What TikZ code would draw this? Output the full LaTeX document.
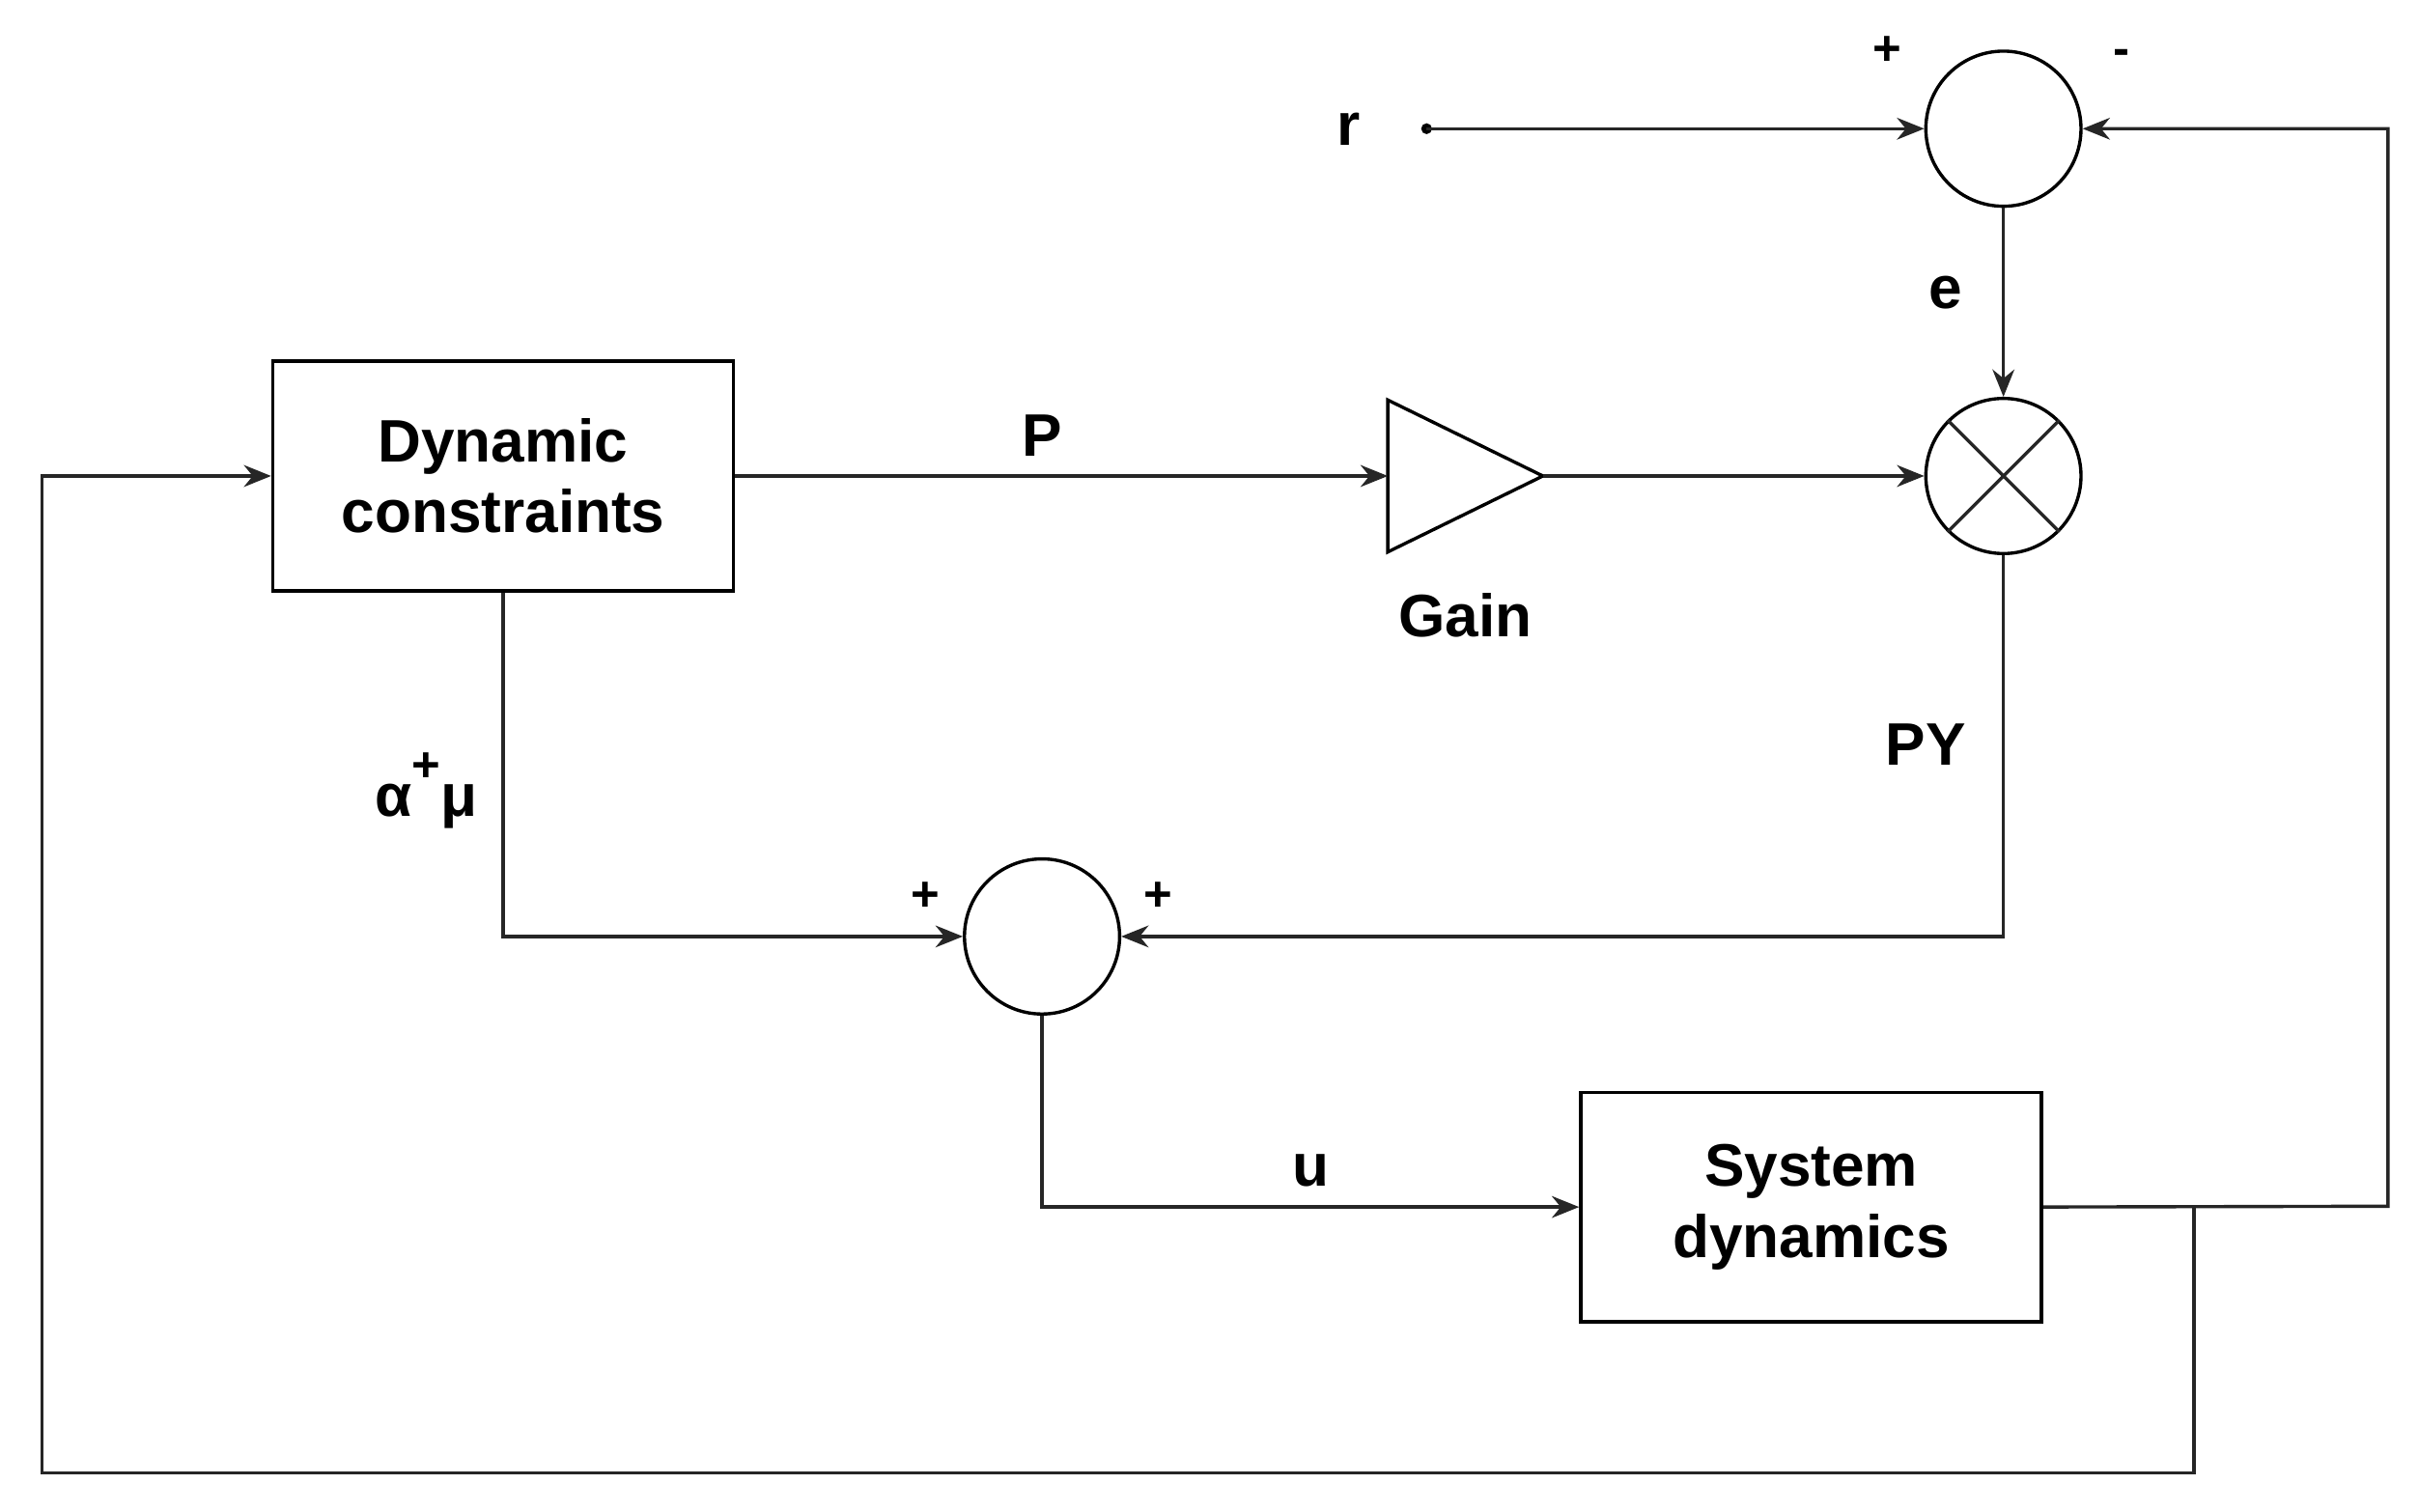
\documentclass[tikz,border=0pt]{standalone}
\usepackage{fontspec}
\setmainfont{Liberation Sans}
\usetikzlibrary{arrows.meta}
\begin{document}
\begin{tikzpicture}[x=0.01cm,y=-0.01cm,
  every node/.style={font=\fontsize{11}{13}\selectfont\bfseries},
  ln/.style={draw=black!85,line width=0.6pt},
  ar/.style={ln,-{Stealth[length=5pt,width=4pt]}},
  blk/.style={draw,line width=0.6pt,minimum width=2.97cm,minimum height=1.48cm,align=center,inner sep=0pt},
  circ/.style={draw,circle,line width=0.6pt,minimum size=1cm,inner sep=0pt},
  sg/.style={font=\fontsize{9}{10}\selectfont\bfseries}]
\useasboundingbox (0,0) rectangle (1560,975);
\node[blk] (dc) at (324.5,307) {Dynamic\\constraints};
\node[blk] (sd) at (1168,778.5) {System\\dynamics};
\node[circ] (s1) at (1292,83) {};
\node[circ] (m) at (1292,307) {};
\node[circ] (s2) at (672,604) {};
\draw[ln] (m.45)--(m.225) (m.135)--(m.315);
\coordinate (gl) at (895,307);
\coordinate (gt) at (995,307);
\draw[line width=0.6pt] (895,258)--(gt)--(895,356)--cycle;
\fill (920,83) circle (3.5);
\coordinate (r) at (920,83);
\node at (870,83) {r};
\draw[ar] (r) -- (s1.west);
\draw[ar] (s1.south) -- node[left,pos=0.45,xshift=-4pt] {e} (m.north);
\draw[ar] (dc.east) -- node[above,pos=0.47] {P} (gl);
\draw[ar] (gt) -- (m.west);
\node at (945,397) {Gain};
\draw[ar] (m.south) |- (s2.east);
\node at (1242,480) {PY};
\draw[ar] (dc.south) |- (s2.west);
\node at (275,510) {α\raisebox{1.1ex}{\fontsize{9}{10}\selectfont +}μ};
\draw[ar] (s2.south) |- node[above,pos=0.75] {u} (sd.west);
\coordinate (c1) at (1540,778);
\coordinate (c2) at (1415,778);
\draw[ar] (sd.east) -- (c1) |- (s1.east);
\draw[ar] (c2) -- (1415,950) -- (27,950) |- (dc.west);
\node[sg] at (1217,33) {+};
\node[sg] at (1368,37) {-};
\node[sg] at (597,578) {+};
\node[sg] at (747,578) {+};
\end{tikzpicture}
\end{document}
